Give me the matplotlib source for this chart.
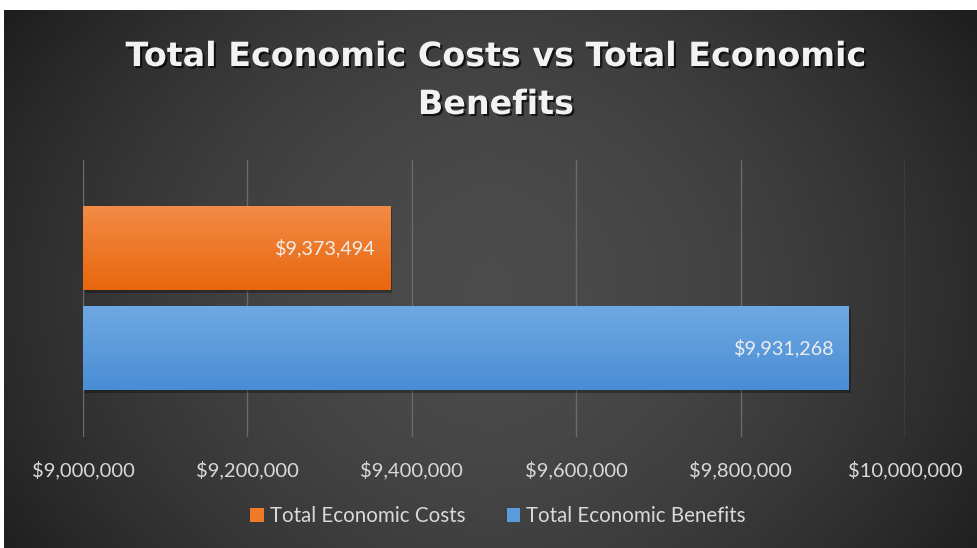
import numpy as np
import matplotlib
matplotlib.use("Agg")
import matplotlib.pyplot as plt
import matplotlib.patheffects as pe
from matplotlib.patches import Patch
from matplotlib.ticker import FuncFormatter

# ---- data ----
series_names = ["Total Economic Costs", "Total Economic Benefits"]
series_values = [9373494, 9931268]
x_ticks = [9000000, 9200000, 9400000, 9600000, 9800000, 10000000]
title_text = "Total Economic Costs vs Total Economic\nBenefits"

colors_top = ["#F38B45", "#6EA8E2"]
colors_bot = ["#E8670E", "#4A8DD5"]
colors_mid = ["#EE7A2A", "#5A9BDC"]

plt.rcParams['font.family'] = ['Lato', 'DejaVu Sans']

W, H = 977, 548
fig = plt.figure(figsize=(W / 100, H / 100), dpi=100)
fig.patch.set_facecolor("white")

# background panel with radial gradient
bg = fig.add_axes([4 / W, 0, (W - 4) / W, (H - 10) / H])
bg.set_axis_off()
ny, nx = 270, 480
yy, xx = np.mgrid[0:ny, 0:nx]
dx = (xx / (nx - 1)) * 2 - 1
dy = (yy / (ny - 1)) * 2 - 1
v = 0.295 - 0.125 * np.abs(dx) ** 1.7 - 0.05 * (dy - 0.05) ** 2
img = np.dstack([v, v, v])
bg.imshow(np.clip(img, 0, 1), aspect="auto", extent=[0, 1, 0, 1], interpolation="bilinear")
bg.set_xlim(0, 1)
bg.set_ylim(0, 1)

# main axes
ax = fig.add_axes([83 / W, 111 / H, (905 - 83) / W, (437 - 160) / H])
ax.set_facecolor("none")
for s in ax.spines.values():
    s.set_visible(False)

axis_min, axis_max = x_ticks[0], x_ticks[-1]
ypos = np.arange(len(series_values))[::-1]  # first series on top
bar_h = 0.84
bars = ax.barh(ypos, np.array(series_values) - axis_min, left=axis_min, height=bar_h,
               color=colors_mid, zorder=3)
for i, b in enumerate(bars):
    b.set_path_effects([pe.SimplePatchShadow(offset=(1.5, -2.5), shadow_rgbFace="black", alpha=0.3), pe.Normal()])
    grad = np.linspace(0, 1, 64)[:, None]
    c1 = np.array(matplotlib.colors.to_rgb(colors_top[i]))
    c2 = np.array(matplotlib.colors.to_rgb(colors_bot[i]))
    gimg = c1[None, None, :] * (1 - grad[:, :, None]) + c2[None, None, :] * grad[:, :, None]
    x0, y0 = b.get_x(), b.get_y()
    im = ax.imshow(gimg, aspect="auto", extent=[x0, x0 + b.get_width(), y0, y0 + b.get_height()],
                   origin="upper", zorder=4, interpolation="bilinear")
    im.set_clip_path(b)
    ax.text(series_values[i] - 17000, ypos[i], "${:,.0f}".format(series_values[i]),
            ha="right", va="center", color="#EDEDED", fontsize=14.2, zorder=6)

ax.set_xlim(axis_min, axis_max)
ax.set_ylim(-0.895, 1.88)
ax.set_xticks(x_ticks)
ax.xaxis.set_major_formatter(FuncFormatter(lambda x, p: "${:,.0f}".format(x)))
ax.set_yticks([])
ax.tick_params(axis="x", length=0, pad=17, colors="#D9D9D9", labelsize=14.5)
ax.grid(axis="x", color="#6A6A6A", linewidth=1.0, zorder=1)
ax.set_axisbelow(True)

# title (two lines, placed by baseline)
title_lines = title_text.split("\n")
baselines_px = [66, 114]
for line, bl in zip(title_lines, baselines_px):
    fig.text(496 / W, 1 - bl / H, line, ha="center", va="baseline", fontsize=24, fontweight="bold",
             family=["DejaVu Sans"], color="#F2F2F2",
             path_effects=[pe.withSimplePatchShadow(offset=(1.5, -1.5), shadow_rgbFace="black", alpha=0.7)])

# legend
handles = [Patch(facecolor=colors_mid[i], label=series_names[i]) for i in range(len(series_names))]
leg = fig.legend(handles=handles, loc="center", bbox_to_anchor=(498 / W, (H - 516) / H), ncol=2,
                 frameon=False, fontsize=14.8, handlelength=0.65, handleheight=0.65,
                 handletextpad=0.3, columnspacing=2.0, labelcolor="#D9D9D9")

fig.savefig("out.png", dpi=100, facecolor=fig.get_facecolor())
